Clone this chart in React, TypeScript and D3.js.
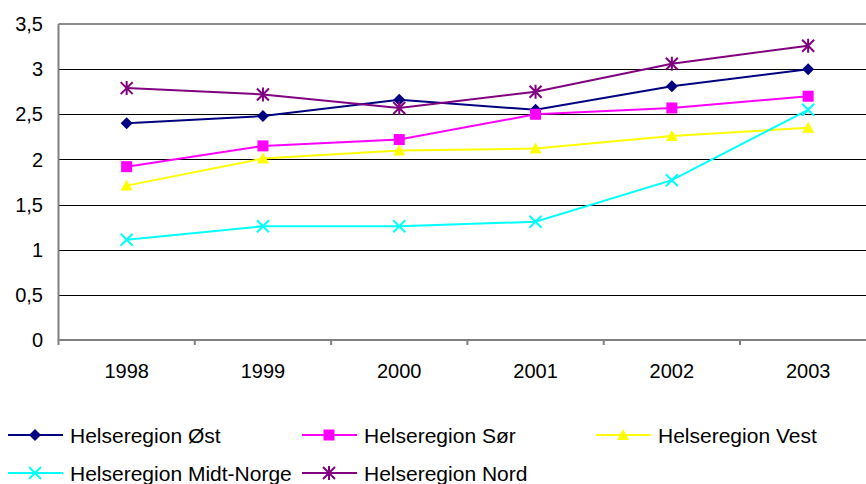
import { useEffect, useRef } from "react";
import * as d3 from "d3";

const years = ["1998", "1999", "2000", "2001", "2002", "2003"];
const yTicks = [0, 0.5, 1, 1.5, 2, 2.5, 3, 3.5];

const ost = [2.4, 2.48, 2.66, 2.55, 2.81, 3.0];
const sor = [1.92, 2.15, 2.22, 2.5, 2.57, 2.7];
const vest = [1.71, 2.01, 2.1, 2.12, 2.26, 2.35];
const midtNorge = [1.11, 1.26, 1.26, 1.31, 1.77, 2.55];
const nord = [2.79, 2.72, 2.57, 2.75, 3.06, 3.26];

const seriesNames = [
  "Helseregion Øst",
  "Helseregion Sør",
  "Helseregion Vest",
  "Helseregion Midt-Norge",
  "Helseregion Nord",
];
const seriesValues = [ost, sor, vest, midtNorge, nord];
const seriesColors = ["#000080", "#ff00ff", "#ffff00", "#00ffff", "#800080"];
const seriesMarkers = ["diamond", "square", "triangle", "cross", "star"];

// marker path centred at 0,0
function markerPath(kind: string) {
  const r = 6;
  switch (kind) {
    case "diamond":
      return `M0,${-r}L${r},0L0,${r}L${-r},0Z`;
    case "square":
      return `M${-5.5},${-5.5}h11v11h-11Z`;
    case "triangle":
      return `M0,${-r}L${r},${r - 1}L${-r},${r - 1}Z`;
    case "cross":
      return `M${-r},${-r}L${r},${r}M${-r},${r}L${r},${-r}`;
    default:
      return `M${-r},${-r}L${r},${r}M${-r},${r}L${r},${-r}M0,${-r - 1}L0,${r + 1}`;
  }
}

export default function App() {
  const svgRef = useRef<SVGSVGElement>(null);

  useEffect(() => {
    if (!svgRef.current) return;
    const svg = d3.select(svgRef.current);
    svg.selectAll("*").remove();

    const left = 58.5;
    const top = 24;
    const bottom = 340;
    const step = 136.3;

    const x = d3
      .scaleBand()
      .domain(years)
      .range([left, left + step * years.length]);
    const y = d3.scaleLinear().domain([0, 3.5]).range([bottom, top]);
    const cx = (d: string) => (x(d) as number) + x.bandwidth() / 2;

    // gridlines
    svg
      .append("g")
      .selectAll("line")
      .data(yTicks.filter((t) => t > 0 && t < 3.5))
      .enter()
      .append("line")
      .attr("x1", left)
      .attr("x2", 866)
      .attr("y1", (d) => Math.round(y(d)) + 0.5)
      .attr("y2", (d) => Math.round(y(d)) + 0.5)
      .attr("stroke", "#000")
      .attr("stroke-width", 1);

    // top border
    svg
      .append("line")
      .attr("x1", left)
      .attr("x2", 866)
      .attr("y1", y(3.5))
      .attr("y2", y(3.5))
      .attr("stroke", "#8c8c8c")
      .attr("stroke-width", 2);

    // y axis
    svg
      .append("line")
      .attr("x1", left)
      .attr("x2", left)
      .attr("y1", top)
      .attr("y2", bottom + 1)
      .attr("stroke", "#808080")
      .attr("stroke-width", 2);

    // x axis
    svg
      .append("line")
      .attr("x1", left)
      .attr("x2", 866)
      .attr("y1", bottom)
      .attr("y2", bottom)
      .attr("stroke", "#808080")
      .attr("stroke-width", 2);

    svg
      .append("g")
      .selectAll("line")
      .data(years)
      .enter()
      .append("line")
      .attr("x1", (d) => x(d) as number)
      .attr("x2", (d) => x(d) as number)
      .attr("y1", bottom)
      .attr("y2", bottom + 5)
      .attr("stroke", "#808080")
      .attr("stroke-width", 2);

    const font = "'Liberation Sans', Arial, sans-serif";

    svg
      .append("g")
      .selectAll("text")
      .data(yTicks)
      .enter()
      .append("text")
      .attr("x", 43)
      .attr("y", (d) => y(d))
      .attr("dy", "0.36em")
      .attr("text-anchor", "end")
      .attr("font-family", font)
      .attr("font-size", 20)
      .text((d) => String(d).replace(".", ","));

    svg
      .append("g")
      .selectAll("text")
      .data(years)
      .enter()
      .append("text")
      .attr("x", (d) => cx(d))
      .attr("y", 378)
      .attr("text-anchor", "middle")
      .attr("font-family", font)
      .attr("font-size", 20)
      .text((d) => d);

    const line = d3
      .line<number>()
      .x((_, i) => cx(years[i]))
      .y((d) => y(d));

    seriesValues.forEach((vals, si) => {
      const color = seriesColors[si];
      const g = svg.append("g");
      g.append("path")
        .attr("d", line(vals))
        .attr("fill", "none")
        .attr("stroke", color)
        .attr("stroke-width", 2);
      const kind = seriesMarkers[si];
      const filled = kind !== "cross" && kind !== "star";
      g.selectAll("path.m")
        .data(vals)
        .enter()
        .append("path")
        .attr("class", "m")
        .attr("transform", (d, i) => `translate(${cx(years[i])},${y(d)})`)
        .attr("d", markerPath(kind))
        .attr("fill", filled ? color : "none")
        .attr("stroke", color)
        .attr("stroke-width", filled ? 0 : 2);
    });

    // legend
    const legendPos = [
      [8, 435],
      [302, 435],
      [596, 435],
      [8, 473],
      [302, 473],
    ];
    seriesNames.forEach((name, si) => {
      const [lx, ly] = legendPos[si];
      const color = seriesColors[si];
      const kind = seriesMarkers[si];
      const filled = kind !== "cross" && kind !== "star";
      const g = svg.append("g").attr("transform", `translate(${lx},${ly})`);
      g.append("line")
        .attr("x1", 0)
        .attr("x2", 55)
        .attr("y1", 0)
        .attr("y2", 0)
        .attr("stroke", color)
        .attr("stroke-width", 2);
      g.append("path")
        .attr("transform", "translate(27,0)")
        .attr("d", markerPath(kind))
        .attr("fill", filled ? color : "none")
        .attr("stroke", color)
        .attr("stroke-width", filled ? 0 : 2);
      g.append("text")
        .attr("x", 62)
        .attr("y", 0)
        .attr("dy", "0.36em")
        .attr("font-family", font)
        .attr("font-size", 21)
        .attr("fill", "#000")
        .text(name);
    });
  }, []);

  return (
    <svg
      ref={svgRef}
      width={866}
      height={484}
      style={{ position: "absolute", left: 0, top: 0, background: "#fff" }}
    />
  );
}
